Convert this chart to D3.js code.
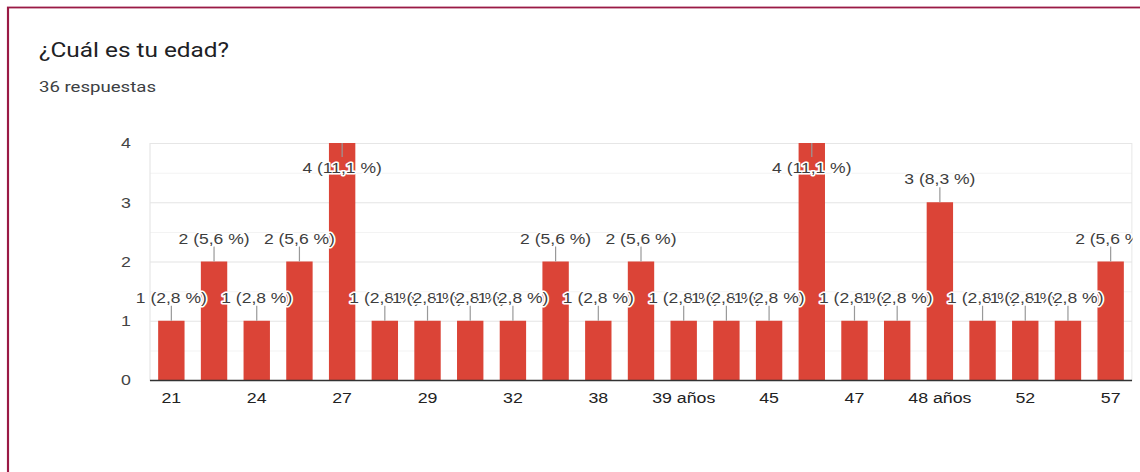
<!DOCTYPE html>
<html>
<head>
<meta charset="utf-8">
<script src="https://cdn.jsdelivr.net/npm/d3@7"></script>
<style>
html, body { margin: 0; padding: 0; background: #fff; overflow: hidden; }
</style>
</head>
<body>
<div class="container"></div>
<script>
// data
const ages = ["21", "23", "24", "25", "27", "28", "29", "30", "32", "35", "38", "39",
              "39 años", "42", "45", "46", "47", "48", "48 años", "50", "52", "55", "57"];
const counts = [1, 2, 1, 2, 4, 1, 1, 1, 1, 2, 1, 2, 1, 1, 1, 4, 1, 1, 3, 1, 1, 1, 2];
const totalResponses = 36;
const yTicks = [0, 1, 2, 3, 4];
const titleText = "¿Cuál es tu edad?";
const subtitleText = "36 respuestas";

// the screenshot is stretched sideways, so draw in a narrower space and stretch it
const sx = 1.2;
const width = 1140 / sx, height = 472;
const svg = d3.select(".container")
              .append("svg")
              .attr("width", 1140)
              .attr("height", 472)
              .attr("viewBox", [0, 0, width, height])
              .attr("preserveAspectRatio", "none")
              .style("display", "block");

// card border
svg.append("rect")
   .attr("x", 8 / sx).attr("y", 7.5)
   .attr("width", width + 20).attr("height", height + 20)
   .attr("fill", "none")
   .attr("stroke", "#9a1a45")
   .attr("stroke-width", 1.8);

svg.append("text")
   .attr("x", 39 / sx).attr("y", 57)
   .attr("font-family", "Roboto, Arial, sans-serif")
   .attr("font-size", 20.3)
   .attr("fill", "#202124")
   .text(titleText);
svg.append("text")
   .attr("x", 39 / sx).attr("y", 92)
   .attr("font-family", "Roboto, Arial, sans-serif")
   .attr("font-size", 15.5)
   .attr("fill", "#3c4043")
   .text(subtitleText);

const plotLeft = 150 / sx, plotRight = 1132 / sx, plotTop = 143, plotBottom = 380;
const x = d3.scaleBand()
            .domain(ages)
            .range([plotLeft, plotRight])
            .paddingInner(0.382)
            .paddingOuter(0.191);
const y = d3.scaleLinear()
            .domain([0, d3.max(yTicks)])
            .range([plotBottom, plotTop]);

svg.append("clipPath").attr("id", "clip")
   .append("rect").attr("x", 0).attr("y", 0).attr("width", plotRight + 0.5).attr("height", height);
const chart = svg.append("g").attr("clip-path", "url(#clip)");

// grid: minor lines every half step, major at each tick
chart.selectAll("line.grid")
     .data(d3.range(0, d3.max(yTicks) + 0.01, 0.5))
     .join("line")
     .attr("class", "grid")
     .attr("x1", plotLeft).attr("x2", plotRight)
     .attr("y1", d => y(d) + 0.5).attr("y2", d => y(d) + 0.5)
     .attr("stroke", d => Number.isInteger(d) ? "#e4e4e4" : "#f3f3f3");
chart.append("rect")
     .attr("x", plotLeft).attr("y", plotTop + 0.5)
     .attr("width", plotRight - plotLeft).attr("height", plotBottom - plotTop)
     .attr("fill", "none")
     .attr("stroke", "#e6e6e6");

chart.selectAll("rect.bar")
     .data(counts)
     .join("rect")
     .attr("class", "bar")
     .attr("x", (d, i) => x(ages[i]))
     .attr("y", d => y(d))
     .attr("width", x.bandwidth())
     .attr("height", d => y(0) - y(d))
     .attr("fill", "#db4437");

chart.append("line")
     .attr("x1", plotLeft).attr("x2", plotRight)
     .attr("y1", plotBottom + 0.5).attr("y2", plotBottom + 0.5)
     .attr("stroke", "#333")
     .attr("stroke-width", 1.4);

// annotations with a leader line, drawn one after another so they overlap like the original
const fmt = v => v + " (" + (v / totalResponses * 100).toFixed(1).replace(".", ",") + " %)";
const inside = v => y(v) - 28 < plotTop;
const notes = chart.selectAll("g.note")
                   .data(counts)
                   .join("g")
                   .attr("class", "note")
                   .attr("transform", (d, i) => `translate(${x(ages[i]) + x.bandwidth() / 2},${y(d)})`);
notes.append("line")
     .attr("y1", 0)
     .attr("y2", d => inside(d) ? 14 : -15)
     .attr("stroke", "#999");
notes.append("text")
     .attr("y", d => inside(d) ? 30 : -18)
     .attr("text-anchor", "middle")
     .attr("font-family", "Arial, 'Liberation Sans', sans-serif")
     .attr("font-size", 14.6)
     .attr("fill", "#3d3d3d")
     .attr("stroke", "#fff")
     .attr("stroke-width", 3)
     .attr("stroke-linejoin", "round")
     .attr("paint-order", "stroke")
     .text(fmt);

// y axis labels
svg.selectAll("text.ytick")
   .data(yTicks)
   .join("text")
   .attr("class", "ytick")
   .attr("x", 131 / sx)
   .attr("y", d => y(d))
   .attr("dy", "0.36em")
   .attr("text-anchor", "end")
   .attr("font-family", "Arial, 'Liberation Sans', sans-serif")
   .attr("font-size", 14.8)
   .attr("fill", "#444")
   .text(d => d);

// x axis labels, every other category
svg.selectAll("text.xtick")
   .data(ages.filter((d, i) => i % 2 === 0))
   .join("text")
   .attr("class", "xtick")
   .attr("x", d => x(d) + x.bandwidth() / 2)
   .attr("y", 403)
   .attr("text-anchor", "middle")
   .attr("font-family", "Arial, 'Liberation Sans', sans-serif")
   .attr("font-size", 14.8)
   .attr("fill", "#222")
   .text(d => d);
</script>
</body>
</html>
